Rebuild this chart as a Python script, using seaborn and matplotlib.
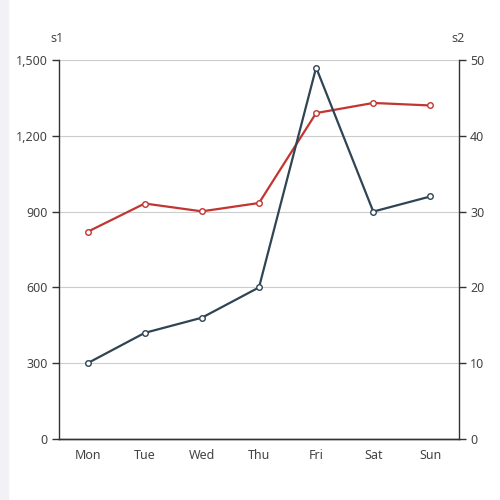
import pandas as pd
import seaborn as sns
import matplotlib.pyplot as plt
from matplotlib.ticker import FuncFormatter, FixedLocator

days = ['Mon', 'Tue', 'Wed', 'Thu', 'Fri', 'Sat', 'Sun']
s1 = [820, 932, 901, 934, 1290, 1330, 1320]
s2 = [10, 14, 16, 20, 49, 30, 32]
s1_ticks = [0, 300, 600, 900, 1200, 1500]
s2_ticks = [0, 10, 20, 30, 40, 50]

sns.set_style('white')
plt.rcParams['font.family'] = ['Noto Sans', 'DejaVu Sans']

df = pd.DataFrame({'day': days, 's1': s1, 's2': s2})
df['pos'] = range(len(days))

fig = plt.figure(figsize=(5, 5), dpi=100)
fig.patches.append(plt.Rectangle((0, 0), 0.016, 1, transform=fig.transFigure,
                                 color='#f1f1f6', zorder=0))
ax = fig.add_axes([0.118, 0.122, 0.8, 0.758])
ax2 = ax.twinx()

axcol = '#333333'
txtcol = '#444444'

sns.lineplot(data=df, x='pos', y='s1', ax=ax, color='#c23531', linewidth=1.6,
             marker='o', markersize=4, markerfacecolor='white',
             markeredgecolor='#c23531', markeredgewidth=1.0, zorder=3)
sns.lineplot(data=df, x='pos', y='s2', ax=ax2, color='#2f4554', linewidth=1.6,
             marker='o', markersize=4, markerfacecolor='white',
             markeredgecolor='#2f4554', markeredgewidth=1.0, zorder=3)

ax.set_xlim(-0.5, len(days) - 0.5)
ax.set_ylim(0, 1500)
ax2.set_ylim(0, 50)
ax.set_yticks(s1_ticks)
ax2.set_yticks(s2_ticks)
ax.yaxis.set_major_formatter(FuncFormatter(lambda v, p: f'{int(v):,}'))

ax.set_xticks(range(len(days)))
ax.set_xticklabels(days)
ax.xaxis.set_minor_locator(FixedLocator([i - 0.5 for i in range(len(days) + 1)]))
ax.tick_params(axis='x', which='major', length=0, pad=7, labelsize=9, labelcolor=txtcol)
ax.tick_params(axis='x', which='minor', length=5, width=1, color=axcol, direction='out')
ax.tick_params(axis='y', length=5, width=1, color=axcol, direction='out',
               labelsize=9, labelcolor=txtcol, pad=3, left=True)
ax2.tick_params(axis='y', length=5, width=1, color=axcol, direction='out',
                labelsize=9, labelcolor=txtcol, pad=3, right=True)

ax.grid(axis='y', color='#cccccc', linewidth=0.8)
ax.set_axisbelow(True)

for a in (ax, ax2):
    a.set_xlabel('')
    a.set_ylabel('')
    a.spines['top'].set_visible(False)
    for s in ('left', 'right', 'bottom'):
        a.spines[s].set_color(axcol)
        a.spines[s].set_linewidth(1)
ax.spines['right'].set_visible(False)
ax2.spines['left'].set_visible(False)

ax.text(-0.005, 1.058, 's1', transform=ax.transAxes, ha='center', va='center',
        fontsize=9, color=txtcol)
ax2.text(0.998, 1.058, 's2', transform=ax2.transAxes, ha='center', va='center',
         fontsize=9, color=txtcol)

fig.savefig('out.png', dpi=100)
